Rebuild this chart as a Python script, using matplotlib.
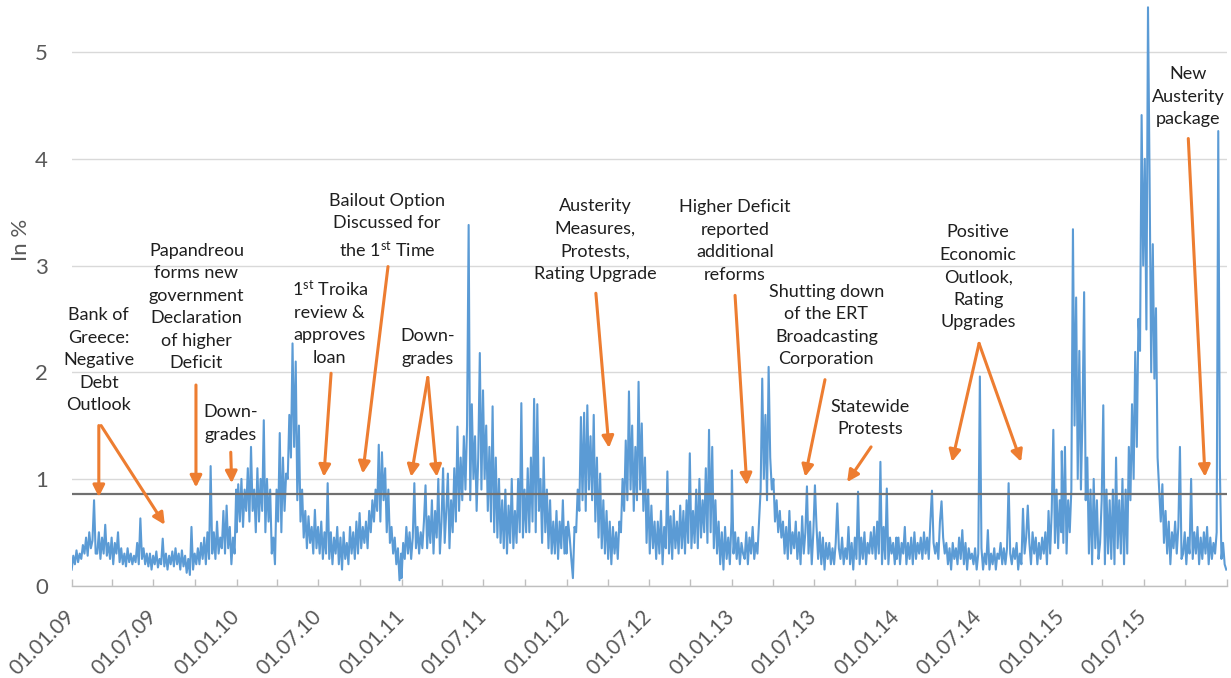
import matplotlib
matplotlib.use("Agg")
import matplotlib.pyplot as plt
import matplotlib.dates as mdates
from matplotlib.ticker import FuncFormatter
import numpy as np
import pandas as pd

plt.rcParams['font.family'] = ['Lato', 'DejaVu Sans']
plt.rcParams['mathtext.fontset'] = 'custom'
plt.rcParams['mathtext.rm'] = 'Lato'
plt.rcParams['mathtext.it'] = 'Lato:italic'
plt.rcParams['mathtext.bf'] = 'Lato:bold'

# ---------------- data (two readings per week) ----------------
years = [2009, 2010, 2011, 2012, 2013, 2014, 2015]

v2009 = [0.15,0.28,0.20,0.33,0.22,0.30,0.25,0.38,
         0.30,0.45,0.28,0.50,0.35,0.42,0.80,0.30,
         0.30,0.50,0.25,0.45,0.30,0.57,0.28,0.40,
         0.25,0.45,0.20,0.40,0.30,0.50,0.22,0.35,
         0.20,0.30,0.18,0.35,0.22,0.30,0.20,0.28,
         0.22,0.40,0.20,0.63,0.25,0.35,0.20,0.30,
         0.18,0.30,0.15,0.28,0.20,0.32,0.17,0.25,
         0.20,0.44,0.18,0.30,0.15,0.28,0.20,0.32,
         0.18,0.35,0.20,0.30,0.15,0.33,0.18,0.28,
         0.12,0.25,0.10,0.55,0.15,0.30,0.20,0.35,
         0.20,0.40,0.25,0.45,0.20,0.50,0.25,1.12,
         0.30,0.50,0.25,0.60,0.30,0.45,0.35,0.70,
         0.30,0.75,0.35,0.55,0.20,0.45,0.30,0.90]
v2010 = [0.50,0.95,0.60,1.00,0.55,0.90,0.70,1.10,
         0.60,1.30,0.70,0.90,0.50,1.10,0.60,1.00,
         0.70,1.55,0.50,1.00,0.60,0.90,0.30,0.45,
         0.20,0.90,0.60,1.43,0.50,1.20,0.70,1.05,
         1.00,1.60,1.20,2.27,1.30,2.10,0.80,1.50,
         0.60,0.90,0.45,0.70,0.35,0.65,0.40,0.55,
         0.30,0.71,0.35,0.55,0.30,0.60,0.25,0.50,
         0.30,0.96,0.25,0.50,0.20,0.45,0.30,0.55,
         0.20,0.45,0.15,0.50,0.25,0.40,0.20,0.55,
         0.30,0.50,0.25,0.60,0.30,0.68,0.35,0.55,
         0.40,0.60,0.35,0.70,0.50,0.80,0.60,0.90,
         0.70,1.32,0.60,1.25,0.80,1.10,0.50,0.90,
         0.40,0.55,0.30,0.45,0.20,0.35,0.05,0.30]
v2011 = [0.07,0.40,0.25,0.55,0.30,0.50,0.25,0.45,
         0.96,0.35,0.55,0.30,0.50,0.35,0.60,0.94,
         0.35,0.65,0.40,0.80,0.30,0.70,0.45,1.00,
         0.30,0.60,1.10,0.40,0.70,1.05,0.35,0.80,
         0.50,1.10,0.60,1.49,0.70,1.20,0.80,1.40,
         0.90,1.50,3.38,0.80,1.70,1.00,1.40,0.70,
         1.20,2.18,0.90,1.83,1.00,1.50,0.70,1.30,
         0.60,1.68,0.50,1.20,0.45,1.00,0.40,0.80,
         0.35,0.90,0.30,0.75,0.40,1.00,0.35,0.70,
         0.40,1.00,0.50,1.71,0.45,0.90,0.50,1.10,
         0.50,1.20,0.60,1.75,0.50,1.70,0.70,1.00,
         0.40,1.20,0.50,0.90,0.35,0.80,0.30,0.60,
         0.30,0.70,0.25,0.60,0.35,0.80,0.30,0.55]
v2012 = [0.30,0.60,0.45,0.25,0.07,0.55,0.50,0.90,
         0.70,1.58,0.80,1.62,0.70,1.69,0.90,1.40,
         0.80,1.60,0.60,1.20,0.45,1.05,0.35,0.80,
         0.30,0.70,0.25,0.60,0.20,0.55,0.30,0.50,
         0.25,0.60,0.50,1.00,0.70,1.36,0.80,1.82,
         0.90,1.50,0.70,1.30,0.80,1.91,0.90,1.52,
         0.70,1.20,0.40,0.90,0.30,0.75,0.35,0.60,
         0.25,0.60,0.30,0.70,0.20,0.55,0.35,1.07,
         0.30,0.65,0.25,0.70,0.35,0.60,0.30,0.75,
         0.35,0.70,0.30,0.80,0.40,1.24,0.35,0.70,
         0.40,0.90,0.35,1.00,0.45,0.80,0.50,1.10,
         0.40,1.46,0.50,1.30,0.35,0.80,0.30,0.60,
         0.20,0.50,0.15,0.55,0.25,0.45,0.20,0.60]
v2013 = [1.08,0.30,0.50,0.25,0.45,0.20,0.40,0.30,
         0.25,0.50,0.20,0.45,0.30,0.55,0.25,0.40,
         0.30,0.60,0.90,1.94,1.00,1.60,0.80,2.05,
         1.20,0.90,1.00,0.60,0.80,0.50,0.70,0.45,
         0.60,0.30,0.55,0.25,0.70,0.30,0.50,0.35,
         0.60,0.25,0.50,0.20,0.65,0.30,0.50,0.93,
         0.30,0.60,0.20,0.50,0.94,0.55,0.25,0.50,
         0.20,0.45,0.15,0.40,0.25,0.40,0.20,0.35,
         0.20,0.40,0.77,0.35,0.25,0.45,0.20,0.35,
         0.25,0.55,0.20,0.40,0.15,0.45,0.25,0.88,
         0.20,0.45,0.25,0.50,0.20,0.40,0.30,0.50,
         0.30,0.55,0.25,0.60,0.30,1.16,0.20,0.55,
         0.25,0.91,0.20,0.45,0.30,0.40,0.20,0.45]
v2014 = [0.25,0.45,0.20,0.40,0.30,0.55,0.20,0.40,
         0.25,0.45,0.20,0.50,0.25,0.40,0.30,0.45,
         0.25,0.50,0.30,0.45,0.25,0.60,0.89,0.40,
         0.30,0.40,0.25,0.60,0.79,0.45,0.30,0.40,
         0.20,0.35,0.15,0.40,0.25,0.35,0.20,0.45,
         0.25,0.52,0.20,0.40,0.15,0.35,0.25,0.30,
         0.20,0.35,0.15,0.30,1.96,0.35,0.15,0.30,
         0.20,0.52,0.15,0.30,0.20,0.35,0.15,0.30,
         0.25,0.40,0.20,0.35,0.20,0.35,0.96,0.30,
         0.20,0.35,0.25,0.40,0.15,0.30,0.20,0.72,
         0.30,0.45,0.75,0.40,0.20,0.50,0.30,0.45,
         0.20,0.40,0.25,0.45,0.30,0.50,0.20,0.70,
         0.30,0.70,1.46,0.40,0.90,0.35,0.80,0.50]
v2015 = [1.26,0.40,1.30,0.30,0.80,0.50,0.90,3.34,
         1.50,2.70,1.00,2.20,0.90,1.60,2.75,0.80,
         1.20,0.30,0.90,0.20,1.00,0.35,0.80,0.25,
         0.40,0.80,1.69,0.20,0.90,0.30,0.80,0.25,
         0.90,0.20,1.20,0.35,0.80,0.30,1.00,0.20,
         0.90,0.30,1.30,0.80,1.70,1.00,2.19,1.30,
         2.50,2.20,4.41,3.00,4.00,2.40,5.42,3.80,
         2.00,3.20,1.94,2.60,1.20,0.90,0.60,0.95,
         0.40,0.70,0.30,0.60,0.20,0.50,0.35,0.60,
         0.30,0.55,1.30,0.25,0.30,0.50,0.20,0.45,
         0.30,1.00,0.25,0.50,0.30,0.55,0.20,0.45,
         0.25,0.50,0.30,0.55,0.20,0.45,0.25,0.40,
         0.30,0.50,4.26,1.10,0.25,0.40,0.20,0.15]
series_by_year = [v2009, v2010, v2011, v2012, v2013, v2014, v2015]

mean_level = 0.86

yticks = [0, 1, 2, 3, 4, 5]
ylabel = "In %"

ann_texts = [
    "Bank of\nGreece:\nNegative\nDebt\nOutlook",
    "Papandreou\nforms new\ngovernment\nDeclaration\nof higher\nDeficit",
    "Down-\ngrades",
    "1$^{\\mathrm{st}}$ Troika\nreview &\napproves\nloan",
    "Bailout Option\nDiscussed for\nthe 1$^{\\mathrm{st}}$ Time",
    "Down-\ngrades",
    "Austerity\nMeasures,\nProtests,\nRating Upgrade",
    "Higher Deficit\nreported\nadditional\nreforms",
    "Shutting down\nof the ERT\nBroadcasting\nCorporation",
    "Statewide\nProtests",
    "Positive\nEconomic\nOutlook,\nRating\nUpgrades",
    "New\nAusterity\npackage",
]
ann_dates = ['2009-03-02', '2009-10-04', '2009-12-19', '2010-07-26', '2010-11-30',
             '2011-02-28', '2012-03-04', '2013-01-08', '2013-07-29', '2013-11-03',
             '2014-06-30', '2015-10-08']
ann_values = [2.11, 2.61, 1.52, 2.47, 3.37, 2.23, 3.24, 3.23, 2.44, 1.57, 2.89, 4.58]

# arrows: (start date, start value, tip date, tip value)
arrow_start_dates = ['2009-03-02', '2009-03-07', '2009-10-03', '2009-12-19', '2010-07-29',
                     '2010-12-02', '2011-02-28', '2011-02-28', '2012-03-06', '2013-01-08',
                     '2013-07-26', '2013-11-05', '2014-07-02', '2014-07-02', '2015-10-08']
arrow_start_values = [1.50, 1.50, 1.88, 1.25, 1.99, 2.99, 1.95, 1.95, 2.74, 2.72,
                      1.93, 1.30, 2.27, 2.27, 4.19]
arrow_tip_dates = ['2009-03-02', '2009-07-26', '2009-10-03', '2009-12-21', '2010-07-13',
                   '2010-10-07', '2011-01-22', '2011-03-20', '2012-04-04', '2013-02-03',
                   '2013-06-12', '2013-09-13', '2014-05-03', '2014-10-03', '2015-11-14']
arrow_tip_values = [0.83, 0.57, 0.92, 0.96, 1.02, 1.05, 1.02, 1.02, 1.29, 0.94,
                    1.02, 0.97, 1.16, 1.16, 1.02]

# ---------------- build series ----------------
dates = []
vals = []
for y, v in zip(years, series_by_year):
    d = pd.date_range(f"{y}-01-01", f"{y}-12-31", periods=len(v))
    dates.extend(d)
    vals.extend(v)
s = pd.Series(vals, index=pd.DatetimeIndex(dates))

# ---------------- figure ----------------
W, H = 1231, 678
fig = plt.figure(figsize=(W / 100, H / 100), dpi=100)
ax = fig.add_axes([71.7 / W, 1 - 585.6 / H, (1226.7 - 71.7) / W, 581.5 / H])

BLUE = '#5B9BD5'
ORANGE = '#ED7D31'
GRID = '#D9D9D9'
TXT = '#595959'

ax.plot(s.index, s.values, color=BLUE, lw=1.5, zorder=2)
ax.axhline(mean_level, color='#707070', lw=1.6, zorder=3)

ax.set_xlim(pd.Timestamp('2009-01-01'), pd.Timestamp('2016-01-01'))
ax.set_ylim(0, 5.45)
ax.set_yticks(yticks)
ax.yaxis.grid(True, color=GRID, lw=1.0, zorder=0)
ax.set_axisbelow(True)

for sp in ['top', 'right', 'left']:
    ax.spines[sp].set_visible(False)
ax.spines['bottom'].set_color('#BFBFBF')
ax.spines['bottom'].set_linewidth(1.0)


def date_label(x, pos):
    d = mdates.num2date(x)
    return '' if d.year >= 2016 else d.strftime('%d.%m.%y')


ax.xaxis.set_major_locator(mdates.MonthLocator(bymonth=[1, 7]))
ax.xaxis.set_minor_locator(mdates.MonthLocator(bymonth=[4, 10]))
ax.xaxis.set_major_formatter(FuncFormatter(date_label))
ax.tick_params(axis='x', which='both', direction='in', length=5, width=1,
               color='#BFBFBF', labelsize=15, labelcolor=TXT, pad=20)
ax.tick_params(axis='y', length=0, labelsize=16, labelcolor=TXT, pad=17)
for lab in ax.get_xticklabels():
    lab.set_rotation(45)
    lab.set_ha('right')
    lab.set_va('center')
    lab.set_rotation_mode('anchor')

fig.text(21 / W, 1 - 240 / H, ylabel, rotation=90, ha='center', va='center',
         fontsize=16, color=TXT)

for t, d, v in zip(ann_texts, ann_dates, ann_values):
    ax.text(pd.Timestamp(d), v, t, ha='center', va='center', fontsize=13,
            color='#1F1F1F', linespacing=1.5, zorder=5)

for sd, sv, td, tv in zip(arrow_start_dates, arrow_start_values,
                          arrow_tip_dates, arrow_tip_values):
    ax.annotate('', xy=(pd.Timestamp(td), tv), xytext=(pd.Timestamp(sd), sv),
                arrowprops=dict(arrowstyle='-|>,head_length=0.7,head_width=0.35',
                                color=ORANGE, lw=2.2, shrinkA=0, shrinkB=0,
                                mutation_scale=10),
                zorder=6)

fig.savefig('out.png', dpi=100)
